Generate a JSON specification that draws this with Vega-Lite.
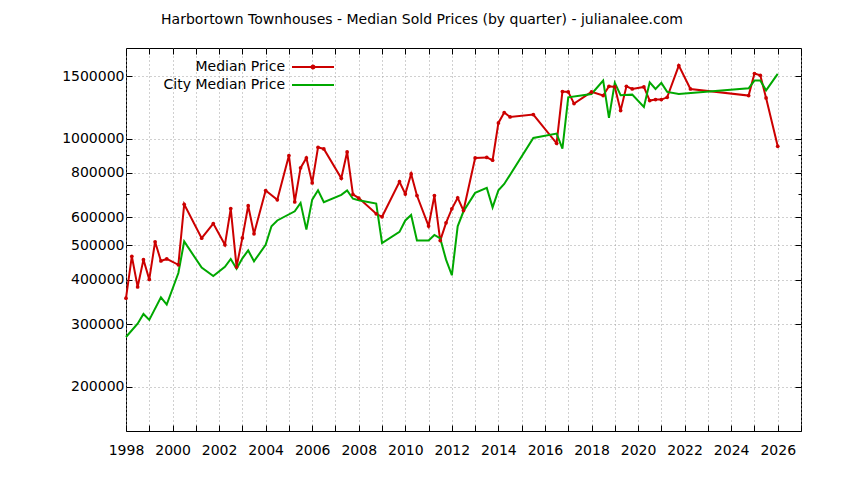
{
  "$schema": "https://vega.github.io/schema/vega-lite/v6.json",
  "description": "Harbortown Townhouses median sold prices by quarter, log scale",
  "width": 675,
  "height": 383,
  "autosize": "none",
  "padding": {"left": 126, "top": 48, "right": 43, "bottom": 49},
  "background": "#ffffff",
  "title": {
    "text": "Harbortown Townhouses - Median Sold Prices (by quarter) - julianalee.com",
    "font": "DejaVu Sans",
    "fontSize": 14,
    "fontWeight": "normal",
    "color": "#000000",
    "anchor": "middle",
    "dx": -41.5,
    "offset": 21
  },
  "datasets": {
    "prices": [
      {"t": 1998.00, "s": "Median Price", "v": 355000},
      {"t": 1998.25, "s": "Median Price", "v": 466000},
      {"t": 1998.50, "s": "Median Price", "v": 382000},
      {"t": 1998.75, "s": "Median Price", "v": 456000},
      {"t": 1999.00, "s": "Median Price", "v": 401000},
      {"t": 1999.25, "s": "Median Price", "v": 512000},
      {"t": 1999.50, "s": "Median Price", "v": 452000},
      {"t": 1999.75, "s": "Median Price", "v": 458000},
      {"t": 2000.25, "s": "Median Price", "v": 441000},
      {"t": 2000.50, "s": "Median Price", "v": 653000},
      {"t": 2001.25, "s": "Median Price", "v": 524000},
      {"t": 2001.75, "s": "Median Price", "v": 576000},
      {"t": 2002.25, "s": "Median Price", "v": 502000},
      {"t": 2002.50, "s": "Median Price", "v": 635000},
      {"t": 2002.75, "s": "Median Price", "v": 435000},
      {"t": 2003.00, "s": "Median Price", "v": 525000},
      {"t": 2003.25, "s": "Median Price", "v": 647000},
      {"t": 2003.50, "s": "Median Price", "v": 539000},
      {"t": 2004.00, "s": "Median Price", "v": 714000},
      {"t": 2004.50, "s": "Median Price", "v": 672000},
      {"t": 2005.00, "s": "Median Price", "v": 896000},
      {"t": 2005.25, "s": "Median Price", "v": 663000},
      {"t": 2005.50, "s": "Median Price", "v": 827000},
      {"t": 2005.75, "s": "Median Price", "v": 882000},
      {"t": 2006.00, "s": "Median Price", "v": 750000},
      {"t": 2006.25, "s": "Median Price", "v": 945000},
      {"t": 2006.50, "s": "Median Price", "v": 935000},
      {"t": 2007.25, "s": "Median Price", "v": 773000},
      {"t": 2007.50, "s": "Median Price", "v": 917000},
      {"t": 2007.75, "s": "Median Price", "v": 696000},
      {"t": 2008.00, "s": "Median Price", "v": 680000},
      {"t": 2008.75, "s": "Median Price", "v": 614000},
      {"t": 2009.00, "s": "Median Price", "v": 602000},
      {"t": 2009.75, "s": "Median Price", "v": 756000},
      {"t": 2010.00, "s": "Median Price", "v": 698000},
      {"t": 2010.25, "s": "Median Price", "v": 795000},
      {"t": 2010.50, "s": "Median Price", "v": 691000},
      {"t": 2011.00, "s": "Median Price", "v": 567000},
      {"t": 2011.25, "s": "Median Price", "v": 691000},
      {"t": 2011.50, "s": "Median Price", "v": 516000},
      {"t": 2011.75, "s": "Median Price", "v": 579000},
      {"t": 2012.00, "s": "Median Price", "v": 634000},
      {"t": 2012.25, "s": "Median Price", "v": 681000},
      {"t": 2012.50, "s": "Median Price", "v": 627000},
      {"t": 2013.00, "s": "Median Price", "v": 882000},
      {"t": 2013.50, "s": "Median Price", "v": 885000},
      {"t": 2013.75, "s": "Median Price", "v": 869000},
      {"t": 2014.00, "s": "Median Price", "v": 1107000},
      {"t": 2014.25, "s": "Median Price", "v": 1184000},
      {"t": 2014.50, "s": "Median Price", "v": 1151000},
      {"t": 2015.50, "s": "Median Price", "v": 1169000},
      {"t": 2016.50, "s": "Median Price", "v": 970000},
      {"t": 2016.75, "s": "Median Price", "v": 1357000},
      {"t": 2017.00, "s": "Median Price", "v": 1354000},
      {"t": 2017.25, "s": "Median Price", "v": 1255000},
      {"t": 2018.00, "s": "Median Price", "v": 1354000},
      {"t": 2018.50, "s": "Median Price", "v": 1322000},
      {"t": 2018.75, "s": "Median Price", "v": 1404000},
      {"t": 2019.00, "s": "Median Price", "v": 1398000},
      {"t": 2019.25, "s": "Median Price", "v": 1199000},
      {"t": 2019.50, "s": "Median Price", "v": 1404000},
      {"t": 2019.75, "s": "Median Price", "v": 1380000},
      {"t": 2020.25, "s": "Median Price", "v": 1398000},
      {"t": 2020.50, "s": "Median Price", "v": 1280000},
      {"t": 2020.75, "s": "Median Price", "v": 1288000},
      {"t": 2021.00, "s": "Median Price", "v": 1288000},
      {"t": 2021.25, "s": "Median Price", "v": 1307000},
      {"t": 2021.75, "s": "Median Price", "v": 1606000},
      {"t": 2022.25, "s": "Median Price", "v": 1380000},
      {"t": 2024.75, "s": "Median Price", "v": 1322000},
      {"t": 2025.00, "s": "Median Price", "v": 1525000},
      {"t": 2025.25, "s": "Median Price", "v": 1508000},
      {"t": 2025.50, "s": "Median Price", "v": 1302000},
      {"t": 2026.00, "s": "Median Price", "v": 951000},
      {"t": 1998.00, "s": "City Median Price", "v": 276000},
      {"t": 1998.50, "s": "City Median Price", "v": 301000},
      {"t": 1998.75, "s": "City Median Price", "v": 320600},
      {"t": 1999.00, "s": "City Median Price", "v": 308500},
      {"t": 1999.50, "s": "City Median Price", "v": 357000},
      {"t": 1999.75, "s": "City Median Price", "v": 340600},
      {"t": 2000.25, "s": "City Median Price", "v": 418000},
      {"t": 2000.50, "s": "City Median Price", "v": 513000},
      {"t": 2001.25, "s": "City Median Price", "v": 433000},
      {"t": 2001.75, "s": "City Median Price", "v": 410000},
      {"t": 2002.25, "s": "City Median Price", "v": 435000},
      {"t": 2002.50, "s": "City Median Price", "v": 458000},
      {"t": 2002.75, "s": "City Median Price", "v": 430000},
      {"t": 2003.00, "s": "City Median Price", "v": 460000},
      {"t": 2003.25, "s": "City Median Price", "v": 484000},
      {"t": 2003.50, "s": "City Median Price", "v": 451000},
      {"t": 2004.00, "s": "City Median Price", "v": 502000},
      {"t": 2004.25, "s": "City Median Price", "v": 566000},
      {"t": 2004.50, "s": "City Median Price", "v": 588000},
      {"t": 2005.25, "s": "City Median Price", "v": 624000},
      {"t": 2005.50, "s": "City Median Price", "v": 659000},
      {"t": 2005.75, "s": "City Median Price", "v": 554000},
      {"t": 2006.00, "s": "City Median Price", "v": 673000},
      {"t": 2006.25, "s": "City Median Price", "v": 715000},
      {"t": 2006.50, "s": "City Median Price", "v": 662000},
      {"t": 2007.25, "s": "City Median Price", "v": 694000},
      {"t": 2007.50, "s": "City Median Price", "v": 714000},
      {"t": 2007.75, "s": "City Median Price", "v": 677000},
      {"t": 2008.00, "s": "City Median Price", "v": 670000},
      {"t": 2008.75, "s": "City Median Price", "v": 656000},
      {"t": 2009.00, "s": "City Median Price", "v": 508000},
      {"t": 2009.75, "s": "City Median Price", "v": 546000},
      {"t": 2010.00, "s": "City Median Price", "v": 588000},
      {"t": 2010.25, "s": "City Median Price", "v": 609000},
      {"t": 2010.50, "s": "City Median Price", "v": 516000},
      {"t": 2011.00, "s": "City Median Price", "v": 516000},
      {"t": 2011.25, "s": "City Median Price", "v": 535000},
      {"t": 2011.50, "s": "City Median Price", "v": 523000},
      {"t": 2011.75, "s": "City Median Price", "v": 456000},
      {"t": 2012.00, "s": "City Median Price", "v": 412000},
      {"t": 2012.25, "s": "City Median Price", "v": 566000},
      {"t": 2012.50, "s": "City Median Price", "v": 624000},
      {"t": 2013.00, "s": "City Median Price", "v": 703000},
      {"t": 2013.50, "s": "City Median Price", "v": 726000},
      {"t": 2013.75, "s": "City Median Price", "v": 640000},
      {"t": 2014.00, "s": "City Median Price", "v": 715000},
      {"t": 2014.25, "s": "City Median Price", "v": 745000},
      {"t": 2015.50, "s": "City Median Price", "v": 1004000},
      {"t": 2016.50, "s": "City Median Price", "v": 1033000},
      {"t": 2016.75, "s": "City Median Price", "v": 937000},
      {"t": 2017.00, "s": "City Median Price", "v": 1307000},
      {"t": 2018.00, "s": "City Median Price", "v": 1336000},
      {"t": 2018.50, "s": "City Median Price", "v": 1457000},
      {"t": 2018.75, "s": "City Median Price", "v": 1144000},
      {"t": 2019.00, "s": "City Median Price", "v": 1435000},
      {"t": 2019.25, "s": "City Median Price", "v": 1325000},
      {"t": 2019.75, "s": "City Median Price", "v": 1330000},
      {"t": 2020.25, "s": "City Median Price", "v": 1228000},
      {"t": 2020.50, "s": "City Median Price", "v": 1441000},
      {"t": 2020.75, "s": "City Median Price", "v": 1380000},
      {"t": 2021.00, "s": "City Median Price", "v": 1435000},
      {"t": 2021.25, "s": "City Median Price", "v": 1354000},
      {"t": 2021.75, "s": "City Median Price", "v": 1336000},
      {"t": 2024.75, "s": "City Median Price", "v": 1386000},
      {"t": 2025.00, "s": "City Median Price", "v": 1457000},
      {"t": 2025.25, "s": "City Median Price", "v": 1457000},
      {"t": 2025.50, "s": "City Median Price", "v": 1368000},
      {"t": 2026.00, "s": "City Median Price", "v": 1522000}
    ]
  },
  "data": {"name": "prices"},
  "layer": [
    {
      "mark": {"type": "line", "strokeWidth": 2},
      "encoding": {
        "x": {
          "field": "t", "type": "quantitative",
          "scale": {"domain": [1998, 2027], "nice": false, "zero": false},
          "axis": {
            "orient": "bottom",
            "title": null,
            "values": [1998,1999,2000,2001,2002,2003,2004,2005,2006,2007,2008,2009,2010,2011,2012,2013,2014,2015,2016,2017,2018,2019,2020,2021,2022,2023,2024,2025,2026,2027],
            "format": "d",
            "labelExpr": "datum.value % 2 == 0 ? datum.label : ''",
            "grid": true,
            "tickSize": -6,
            "labelPadding": 18
          }
        },
        "y": {
          "field": "v", "type": "quantitative",
          "scale": {"type": "log", "domain": [150000, 1800000], "nice": false},
          "axis": {
            "orient": "left",
            "title": null,
            "values": [200000,300000,400000,500000,600000,700000,800000,900000,1000000,1500000],
            "format": "d",
            "labelExpr": "datum.value == 700000 || datum.value == 900000 ? '' : datum.label",
            "grid": true,
            "gridOpacity": {"condition": {"test": "datum.value == 700000 || datum.value == 900000", "value": 0}, "value": 1},
            "tickSize": {"condition": {"test": "datum.value == 700000 || datum.value == 900000", "value": -3}, "value": -6},
            "labelPadding": 8
          }
        },
        "color": {
          "field": "s", "type": "nominal",
          "scale": {"domain": ["Median Price", "City Median Price"], "range": ["#cc0000", "#00a800"]},
          "legend": {
            "orient": "none",
            "legendX": 180,
            "legendY": 12,
            "title": null,
            "padding": 0,
            "symbolType": "M-4.2,0H4.2",
            "symbolSize": 100,
            "symbolStrokeWidth": 2,
            "labelAlign": "right",
            "labelOffset": -35,
            "labelFont": "DejaVu Sans",
            "labelFontSize": 14,
            "labelColor": "#000000",
            "rowPadding": 4,
            "encode": {
              "symbols": {
                "update": {
                  "shape": {"signal": "datum.value === 'Median Price' ? 'M-4.2,0H4.2M-0.3,0A0.3,0.3 0 1 0 0.3,0A0.3,0.3 0 1 0 -0.3,0' : 'M-4.2,0H4.2'"}
                }
              }
            }
          }
        }
      }
    },
    {
      "transform": [{"filter": "datum.s == 'Median Price'"}],
      "mark": {"type": "point", "filled": true, "size": 14, "color": "#cc0000", "opacity": 1},
      "encoding": {
        "x": {"field": "t", "type": "quantitative", "axis": null},
        "y": {"field": "v", "type": "quantitative", "axis": null}
      }
    },
    {
      "mark": {"type": "point", "opacity": 0},
      "encoding": {
        "x": {
          "field": "t", "type": "quantitative",
          "axis": {
            "orient": "top",
            "title": null,
            "values": [1998,1999,2000,2001,2002,2003,2004,2005,2006,2007,2008,2009,2010,2011,2012,2013,2014,2015,2016,2017,2018,2019,2020,2021,2022,2023,2024,2025,2026,2027],
            "labels": false,
            "grid": false,
            "tickSize": -6
          }
        },
        "y": {
          "field": "v", "type": "quantitative",
          "axis": {
            "orient": "right",
            "title": null,
            "values": [200000,300000,400000,500000,600000,700000,800000,900000,1000000,1500000],
            "labels": false,
            "grid": false,
            "tickSize": {"condition": {"test": "datum.value == 700000 || datum.value == 900000", "value": -3}, "value": -6}
          }
        }
      }
    }
  ],
  "resolve": {"axis": {"x": "independent", "y": "independent"}},
  "config": {
    "view": {"stroke": "#000000", "strokeWidth": 1},
    "axis": {
      "domain": false,
      "ticks": true,
      "tickColor": "#000000",
      "tickWidth": 1,
      "gridColor": "#a0a0a0",
      "gridDash": [1, 3],
      "gridWidth": 1,
      "labelFont": "DejaVu Sans",
      "labelFontSize": 14,
      "labelColor": "#000000",
      "labelFlush": false,
      "labelOverlap": false
    }
  }
}
